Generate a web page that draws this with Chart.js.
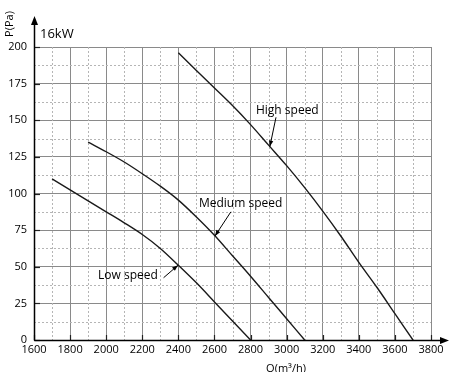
<!DOCTYPE html>
<html><head><meta charset="utf-8">
<script src="https://cdn.jsdelivr.net/npm/chart.js@4/dist/chart.umd.min.js"></script>
<style>html,body{margin:0;padding:0;background:#fff}#wrap{width:449px;height:372px;position:relative}</style>
</head><body><div id="wrap"><canvas id="c" width="449" height="372"></canvas></div>
<script>
// Airflow Q (m³/h) vs static pressure P (Pa) for a 16kW unit
const qHigh = [2400,2500,2600,2700,2800,2900,3000,3100,3200,3300,3400,3500,3600,3700];
const pHigh = [196,184,172,160,147,133,119,104,88,71,53,36,18,0];
const qMedium = [1900,2000,2100,2200,2300,2400,2500,2600,2700,2800,2900,3000,3100];
const pMedium = [135,128.5,121.5,113.5,105,95.5,84,71.5,57.5,43.5,29,14.5,0];
const qLow = [1700,1800,1900,2000,2100,2200,2300,2400,2500,2600,2700,2800];
const pLow = [110,102.5,95,87.5,80,72,62.5,51,39,26,13,0];
const seriesNames = ['High speed','Medium speed','Low speed'];
const xMin = 1600, xMax = 3800, xStep = 200;
const yMin = 0, yMax = 200, yStep = 25;
const chartTitle = '16kW';
const xTitle = 'Q(m³/h)';
const yTitle = 'P(Pa)';
// label anchor (left, middle) and pointer (from -> tip) in data units
const callouts = [
  {text:'High speed',   lx:2830, ly:156.5, fx:2941, fy:152, tx:2907, ty:132},
  {text:'Medium speed', lx:2514, ly:93,    fx:2691, fy:87.5, tx:2603, ty:71},
  {text:'Low speed',    lx:1955, ly:44,    fx:2318, fy:42.5, tx:2398, ty:51}
];

const FONT = '"Open Sans", "DejaVu Sans", sans-serif';
const toPts = (xs, ys) => xs.map((x,i)=>({x:x, y:ys[i]}));

function arrowHead(ctx, x1, y1, x2, y2, len, half){
  const a = Math.atan2(y2-y1, x2-x1);
  ctx.beginPath();
  ctx.moveTo(x2, y2);
  ctx.lineTo(x2 - len*Math.cos(a) + half*Math.sin(a), y2 - len*Math.sin(a) - half*Math.cos(a));
  ctx.lineTo(x2 - len*Math.cos(a) - half*Math.sin(a), y2 - len*Math.sin(a) + half*Math.cos(a));
  ctx.closePath();
  ctx.fill();
}

const decor = {
  id:'decor',
  beforeDatasetsDraw(chart){
    const {ctx, chartArea:a, scales:{x, y}} = chart;
    ctx.save();
    ctx.strokeStyle = '#b5b5b5';
    ctx.lineWidth = 1;
    ctx.setLineDash([2,2]);
    for(let v = xMin + xStep/2; v < xMax; v += xStep){
      const px = Math.round(x.getPixelForValue(v)) + 0.5;
      ctx.beginPath(); ctx.moveTo(px, a.top); ctx.lineTo(px, a.bottom); ctx.stroke();
    }
    for(let v = yMin + yStep/2; v < yMax; v += yStep){
      const py = Math.round(y.getPixelForValue(v)) + 0.5;
      ctx.beginPath(); ctx.moveTo(a.left, py); ctx.lineTo(a.right, py); ctx.stroke();
    }
    ctx.setLineDash([]);
    // short major tick marks inside the plot
    ctx.strokeStyle = '#222';
    ctx.lineWidth = 1.2;
    for(let v = yMin; v <= yMax; v += yStep){
      const py = Math.round(y.getPixelForValue(v)) + 0.5;
      ctx.beginPath(); ctx.moveTo(a.left, py); ctx.lineTo(a.left + 6, py); ctx.stroke();
    }
    for(let v = xMin; v <= xMax; v += xStep){
      const px = Math.round(x.getPixelForValue(v)) + 0.5;
      ctx.beginPath(); ctx.moveTo(px, a.bottom); ctx.lineTo(px, a.bottom - 5); ctx.stroke();
    }
    ctx.restore();
  },
  afterDraw(chart){
    const {ctx, chartArea:a, scales:{x, y}} = chart;
    ctx.save();
    // axes with arrows
    ctx.strokeStyle = '#000'; ctx.fillStyle = '#000'; ctx.lineWidth = 1.5;
    const ox = Math.round(a.left) + 0.5, oy = Math.round(a.bottom) + 0.5;
    ctx.beginPath(); ctx.moveTo(ox, oy); ctx.lineTo(ox, 22); ctx.stroke();
    arrowHead(ctx, ox, 40, ox, 16, 9, 3.5);
    ctx.beginPath(); ctx.moveTo(ox, oy); ctx.lineTo(442, oy); ctx.stroke();
    arrowHead(ctx, 420, oy, 449, oy, 9, 3.5);
    // titles
    ctx.fillStyle = '#000';
    ctx.font = '13px ' + FONT;
    ctx.textAlign = 'left'; ctx.textBaseline = 'middle';
    ctx.fillText(chartTitle, 40, 34);
    ctx.font = '11px ' + FONT;
    ctx.save();
    ctx.translate(10, 24); ctx.rotate(-Math.PI/2);
    ctx.textAlign = 'center'; ctx.textBaseline = 'middle';
    ctx.fillText(yTitle, 0, 0);
    ctx.restore();
    ctx.textAlign = 'center'; ctx.textBaseline = 'top';
    ctx.fillText(xTitle, 286, 363);
    // callouts
    ctx.font = '12px ' + FONT;
    ctx.textAlign = 'left'; ctx.textBaseline = 'middle';
    ctx.lineWidth = 1;
    callouts.forEach(c => {
      ctx.fillText(c.text, x.getPixelForValue(c.lx), y.getPixelForValue(c.ly));
      const fx = x.getPixelForValue(c.fx), fy = y.getPixelForValue(c.fy);
      const tx = x.getPixelForValue(c.tx), ty = y.getPixelForValue(c.ty);
      ctx.beginPath(); ctx.moveTo(fx, fy); ctx.lineTo(tx, ty); ctx.stroke();
      arrowHead(ctx, fx, fy, tx, ty, 6, 2.2);
    });
    ctx.restore();
  }
};

const lineStyle = {borderColor:'#1a1a1a', borderWidth:1.4, pointRadius:0, showLine:true, fill:false, cubicInterpolationMode:'monotone'};

new Chart(document.getElementById('c'), {
  type:'scatter',
  data:{datasets:[
    Object.assign({label:seriesNames[0], data:toPts(qHigh,pHigh)}, lineStyle),
    Object.assign({label:seriesNames[1], data:toPts(qMedium,pMedium)}, lineStyle),
    Object.assign({label:seriesNames[2], data:toPts(qLow,pLow)}, lineStyle)
  ]},
  options:{
    responsive:false, animation:false, devicePixelRatio:1,
    layout:{padding:{top:47, right:18, left:0, bottom:0}},
    plugins:{legend:{display:false}, tooltip:{enabled:false}},
    scales:{
      x:{type:'linear', min:xMin, max:xMax,
        ticks:{stepSize:xStep, color:'#000', padding:3, font:{family:FONT, size:11}, maxRotation:0,
          callback:(v)=>String(v)},
        grid:{color:'#8a8a8a', lineWidth:1, drawTicks:false},
        border:{display:false},
        afterFit(s){ s.height = 32; }
      },
      y:{type:'linear', min:yMin, max:yMax,
        ticks:{stepSize:yStep, color:'#000', padding:7, font:{family:FONT, size:11},
          callback:(v)=>String(v)},
        grid:{color:'#8a8a8a', lineWidth:1, drawTicks:false},
        border:{display:false},
        afterFit(s){ s.width = 34; }
      }
    }
  },
  plugins:[decor]
});
</script>
</body></html>
